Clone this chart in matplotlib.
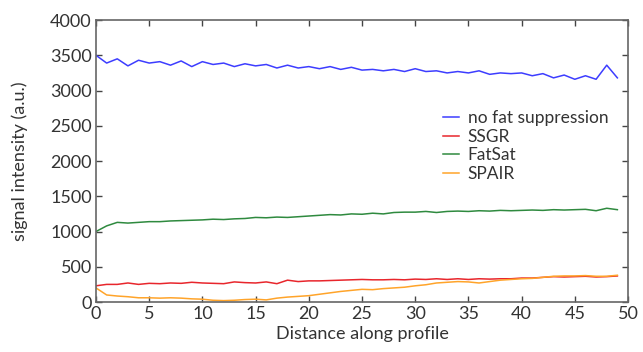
import numpy as np
import matplotlib
matplotlib.use("Agg")
import matplotlib.pyplot as plt

distance = list(range(50))

no_fat_suppression = [3500, 3390, 3450, 3350, 3430, 3390, 3410, 3360, 3420, 3340,
                      3410, 3370, 3390, 3340, 3380, 3350, 3370, 3320, 3360, 3320,
                      3340, 3310, 3340, 3300, 3330, 3290, 3300, 3280, 3300, 3270,
                      3310, 3270, 3280, 3250, 3270, 3250, 3280, 3230, 3250, 3240,
                      3250, 3210, 3240, 3180, 3220, 3160, 3210, 3160, 3360, 3180]

ssgr = [230, 250, 250, 270, 250, 265, 260, 270, 265, 280,
        270, 265, 260, 285, 275, 270, 285, 260, 310, 290,
        300, 300, 305, 310, 315, 320, 315, 315, 320, 315,
        325, 320, 330, 320, 330, 320, 330, 325, 330, 330,
        340, 340, 350, 360, 355, 360, 365, 355, 360, 370]

fatsat = [1000, 1080, 1130, 1120, 1130, 1140, 1140, 1150, 1155, 1160,
          1165, 1175, 1170, 1180, 1185, 1200, 1195, 1205, 1200, 1210,
          1220, 1230, 1240, 1235, 1250, 1245, 1260, 1250, 1270, 1275,
          1275, 1285, 1270, 1285, 1290, 1285, 1295, 1290, 1300, 1295,
          1300, 1305, 1300, 1310, 1305, 1310, 1315, 1295, 1330, 1310]

spair = [200, 100, 85, 75, 60, 60, 55, 60, 55, 45,
         40, 25, 20, 25, 35, 40, 30, 55, 70, 80,
         90, 110, 130, 150, 165, 180, 175, 190, 200, 210,
         230, 245, 270, 280, 290, 285, 270, 290, 310, 320,
         330, 335, 350, 365, 370, 370, 375, 365, 365, 380]

series = [
    ("no fat suppression", no_fat_suppression, "#3d3dff"),
    ("SSGR", ssgr, "#e8262c"),
    ("FatSat", fatsat, "#2f8a3f"),
    ("SPAIR", spair, "#ffa42a"),
]

plt.rcParams["font.family"] = ["Lato", "DejaVu Sans"]
text_color = "#333333"

fig = plt.figure(figsize=(6.43, 3.52), dpi=100)
ax = fig.add_axes([0.1493, 0.142, 0.8274, 0.801])

for label, values, color in series:
    ax.plot(distance, values, color=color, lw=1.1, label=label)

ax.set_xlim(0, 50)
ax.set_ylim(0, 4000)
ax.set_xticks(range(0, 51, 5))
ax.set_yticks(range(0, 4001, 500))
ax.tick_params(direction="in", top=True, right=True, length=4, width=1,
               color="#444444", labelsize=13, labelcolor=text_color, pad=3)
for sp in ax.spines.values():
    sp.set_color("#666666")
    sp.set_linewidth(1.2)

ax.set_xlabel("Distance along profile", fontsize=13, color=text_color, labelpad=3)
ax.set_ylabel("signal intensity (a.u.)", fontsize=13, color=text_color, labelpad=16)

leg = ax.legend(loc="upper left", bbox_to_anchor=(0.64, 0.705), frameon=False,
                fontsize=12.5, handlelength=0.9, handletextpad=0.5,
                labelspacing=0.15, borderaxespad=0)
for t in leg.get_texts():
    t.set_color(text_color)

fig.savefig("out.png", dpi=100)
